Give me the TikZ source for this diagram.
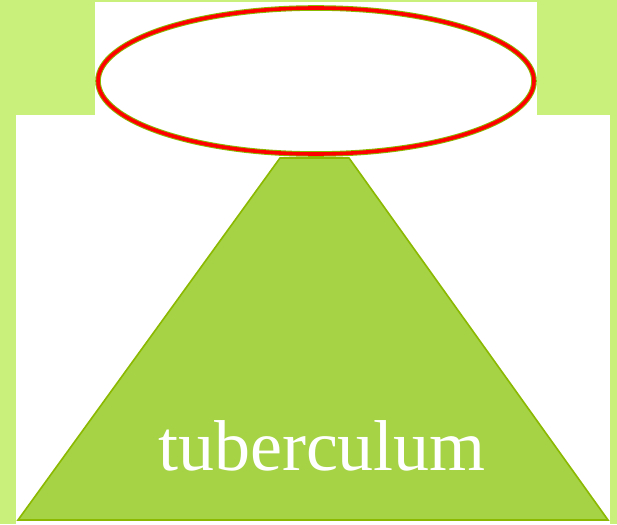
\documentclass[tikz,border=0pt]{standalone}
\usepackage{fontspec}
\setmainfont{Liberation Serif}
\usepackage{xcolor}
\usetikzlibrary{shapes.geometric}

\definecolor{limebg}{HTML}{CAF07C}
\definecolor{conefill}{HTML}{A5D345}
\definecolor{coneedge}{HTML}{8BB800}
\definecolor{halored}{HTML}{FF0000}

\begin{document}
\begin{tikzpicture}[
    x=1pt, y=-1pt,
    cone/.style={fill=conefill, draw=coneedge, line width=1.6pt, line join=miter},
    halo/.style={ellipse, draw=coneedge, line width=1pt, double=halored, double distance=3.6pt, fill=white, minimum width=436pt, minimum height=146pt, inner sep=0pt},
    label/.style={text=white, font=\fontsize{72}{80}\selectfont, inner sep=0pt, anchor=base}
]
\useasboundingbox (0,0) rectangle (617,524);
% backdrop
\fill[limebg] (0,0) rectangle (617,524);
\fill[white] (95,2) rectangle (537,115);
\fill[white] (16,115) rectangle (610,524);
% cone
\coordinate (tl) at (280,158);
\coordinate (tr) at (349,158);
\coordinate (br) at (608,520);
\coordinate (bl) at (18,520);
\draw[cone] (tl) -- (tr) -- (br) -- (bl) -- cycle;
\draw[coneedge, line width=2.5pt] (bl) -- (br);
\node[label] (word) at (322,470) {tuberculum};
% ring on top
\node[halo] (ring) at (316,81) {};
\end{tikzpicture}
\end{document}
